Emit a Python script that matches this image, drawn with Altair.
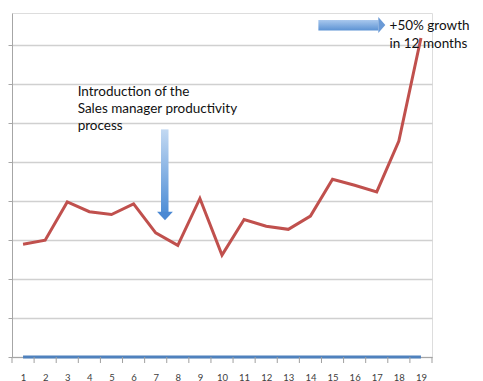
import altair as alt
import pandas as pd

months = list(range(1, 20))
sales = [2.89, 2.99, 3.97, 3.72, 3.65, 3.92, 3.18, 2.86, 4.06, 2.61,
         3.52, 3.35, 3.27, 3.61, 4.55, 4.40, 4.23, 5.53, 8.17]
baseline = [0] * 19
tick_marks = [m + 0.5 for m in range(0, 20)]

note1_lines = ["Introduction of the", "Sales manager productivity", "process"]
note1_x = [3.47, 3.47, 3.47]
note1_y = [6.79, 6.34, 5.92]
note2_lines = ["+50% growth", "in 12  months"]
note2_x = [17.58, 17.58]
note2_y = [8.47, 8.02]

# arrows (data coordinates)
vshaft = {"x": 7.24, "x2": 7.58, "y": 5.83, "y2": 3.70}
vhead = {"x": 7.42, "y": 3.61}
hshaft = {"x": 14.36, "x2": 17.07, "y": 8.63, "y2": 8.36}
hhead = {"x": 17.23, "y": 8.5}

df = pd.DataFrame({"month": months, "sales": sales, "base": baseline})

xs = alt.Scale(domain=[0.5, 19.5], nice=False, zero=False)
ys = alt.Scale(domain=[0, 8.81], nice=False, zero=True)

x_axis = alt.Axis(values=months, title=None, grid=False, domainColor="#a6a6a6", ticks=False,
                  labelFontSize=9.5, labelColor="#404040", labelPadding=15,
                  labelFont="Lato", format="d", labelOverlap=False)
y_axis = alt.Axis(values=list(range(0, 9)), title=None, labels=False, grid=True,
                  gridColor="#d0d0d0", gridWidth=1.3, domainColor="#a6a6a6",
                  tickColor="#a6a6a6", tickSize=4)


def X(f):
    return alt.X(f, type="quantitative", scale=xs, axis=x_axis)


def Y(f):
    return alt.Y(f, type="quantitative", scale=ys, axis=y_axis)


base = alt.Chart(df)

red = base.mark_line(color="#c0504d", strokeWidth=3, strokeJoin="miter").encode(
    x=X("month"), y=Y("sales"))
blue = base.mark_line(color="#4f81bd", strokeWidth=3).encode(x=X("month"), y=Y("base"))
ticks = alt.Chart(pd.DataFrame({"t": tick_marks, "z": [0] * len(tick_marks)})).mark_tick(
    orient="vertical", size=6, thickness=1, color="#a0a0a0", yOffset=3, opacity=1).encode(
    x=X("t"), y=Y("z"))

vgrad = alt.Gradient(gradient="linear", x1=0, x2=0, y1=0, y2=1,
                     stops=[alt.GradientStop(offset=0, color="#c3d9f2"),
                            alt.GradientStop(offset=1, color="#4f8ed6")])
hgrad = alt.Gradient(gradient="linear", x1=0, x2=0, y1=0, y2=1,
                     stops=[alt.GradientStop(offset=0, color="#a9c8ee"),
                            alt.GradientStop(offset=1, color="#5b92d3")])

vs = alt.Chart(pd.DataFrame([vshaft])).mark_rect(fill=vgrad).encode(
    x=X("x"), x2="x2:Q", y=Y("y"), y2="y2:Q")
vh = alt.Chart(pd.DataFrame([vhead])).mark_point(
    shape="M-1,-0.53L1,-0.53L0,0.53Z", filled=True, fill="#4a88d3", opacity=1,
    size=250, strokeWidth=0).encode(x=X("x"), y=Y("y"))
hs = alt.Chart(pd.DataFrame([hshaft])).mark_rect(fill=hgrad).encode(
    x=X("x"), x2="x2:Q", y=Y("y"), y2="y2:Q")
hh = alt.Chart(pd.DataFrame([hhead])).mark_point(
    shape="M-0.44,-1L0.44,0L-0.44,1Z", filled=True, fill="#6a9ad6", opacity=1,
    size=256, strokeWidth=0).encode(x=X("x"), y=Y("y"))

t1 = alt.Chart(pd.DataFrame({"t": note1_lines, "x": note1_x, "y": note1_y})).mark_text(
    align="left", baseline="middle", font="Lato", fontSize=13.5, color="#111111").encode(
    x=X("x"), y=Y("y"), text="t:N")
t2 = alt.Chart(pd.DataFrame({"t": note2_lines, "x": note2_x, "y": note2_y})).mark_text(
    align="left", baseline="middle", font="Lato", fontSize=13.5, color="#111111").encode(
    x=X("x"), y=Y("y"), text="t:N")

chart = alt.layer(red, blue, ticks, vs, vh, hs, hh, t1, t2).properties(
    width=420, height=344,
    autosize=alt.AutoSizeParams(type="none"),
    padding={"left": 4, "top": 5, "right": 43, "bottom": 25},
).configure_view(stroke=None).configure(background="white").configure_axisX(
    labelOverlap=False, labelBound=False, labelFlush=False)

chart.save("out.html", embed_options={"renderer": "svg", "actions": False})
